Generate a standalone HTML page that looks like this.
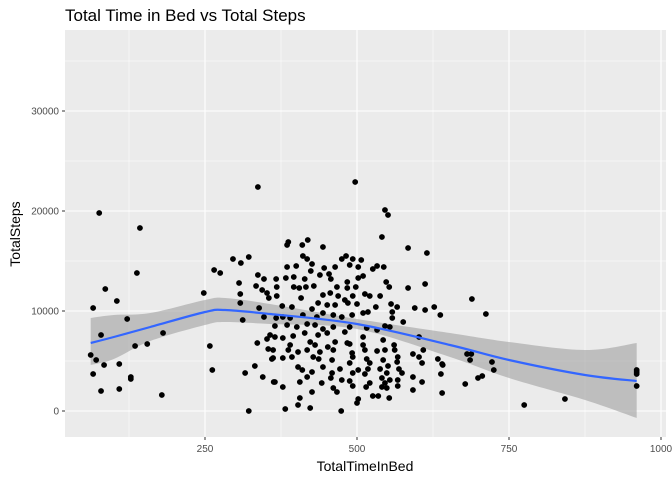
<!DOCTYPE html>
<html><head><meta charset="utf-8"><style>
body{margin:0;background:#fff;}
svg text{font-family:"Liberation Sans",Arial,sans-serif;}
</style></head><body>
<svg id="chart" width="672" height="480" viewBox="0 0 672 480" xmlns="http://www.w3.org/2000/svg">
<rect x="0" y="0" width="672" height="480" fill="#fff"/>
<text x="65" y="21" font-size="17" fill="#000">Total Time in Bed vs Total Steps</text>
<rect x="65" y="30" width="601" height="407" fill="#ebebeb"/>
<g id="grid"></g><g id="ribbon"></g><g id="pts"></g><g id="line"></g><g id="axes"></g>
<text x="365" y="471" font-size="14" text-anchor="middle" fill="#000">TotalTimeInBed</text>
<text transform="translate(20,234) rotate(-90)" font-size="14" text-anchor="middle" fill="#000">TotalSteps</text>
</svg>
<script>
const xTicks=[250,500,750,1000];
const yTicks=[0,10000,20000,30000];
const timeInBed=[76,143,138,86,105,66,248,265,275,296,309,322,337,122,79,181,135,155,62,71,84,109,66,128,128,79,109,179,258,262,322,308,306,308,312,336,316,332,345,363,360,354,337,347,334,344,352,355,339,347,352,357,
497,546,551,541,584,615,387,385,410,419,444,411,418,426,475,482,493,507,488,502,385,400,424,446,464,526,533,544,367,383,396,414,439,454,457,510,502,484,548,553,584,612,368,396,405,416,429,467,484,498,368,408,444,456,469,480,493,513,521,538,436,451,464,485,500,531,556,566,595,612,627,637,377,393,426,411,444,461,510,518,558,378,367,390,434,475,492,558,576,365,385,401,418,431,444,461,480,488,516,533,546,554,602,365,378,395,414,436,451,464,510,543,390,423,431,452,484,488,510,561,362,387,403,418,439,461,492,513,533,546,562,609,362,378,393,428,437,459,493,516,543,567,592,602,633,488,521,551,566,607,640,403,410,444,472,502,518,538,569,426,459,493,513,549,574,638,418,457,475,541,554,592,365,406,442,488,521,546,567,607,378,461,493,515,541,549,567,592,426,467,526,535,553,640,406,502,500,403,423,382,474,
689,712,681,688,686,722,725,641,706,699,678,775,842,960,960,960,960];
const totalSteps=[19800,18300,13800,12200,11000,10300,11800,14100,13800,15200,14800,15400,22400,9200,7600,7800,6500,6700,5600,5100,4600,4700,3700,3400,3200,2000,2200,1600,6500,4100,0,11700,12800,10800,9100,6800,3800,4500,3400,2900,5200,6200,13600,13200,12500,12100,11800,11300,10300,9400,7200,7600,
22900,20100,19600,17400,16300,15800,16900,16600,16600,17100,16400,15500,15200,14700,15200,15500,15200,15100,14600,14400,14400,14500,14000,14300,14400,14200,14500,14400,13200,13300,13400,13200,13600,13700,13200,13500,13300,12900,12900,12400,12300,12700,12400,12400,12300,12400,12500,12400,12300,12400,11500,11300,11600,11800,11500,11100,11500,11700,11500,11500,10800,10600,10600,10800,10700,10400,10700,10400,10300,10100,10400,9600,10500,10400,10200,9600,9800,9600,9800,9900,9900,9400,9300,9300,9400,9400,9600,9300,8900,8500,8600,8400,8700,8600,8200,8400,7900,8400,8300,8100,8500,8400,7400,7400,7300,7500,7800,7600,7800,6900,7400,7100,6600,6900,6600,6400,6800,6700,6600,6600,6100,6100,5900,6100,5900,6100,5800,6100,6000,6100,6100,6100,5300,5300,5400,5400,5200,5100,5400,5200,5100,5400,5700,5400,5200,4800,4800,4500,4900,4800,4700,4400,4100,4400,4200,4100,4200,4200,4200,3900,3800,3800,3700,3800,3800,3700,3400,3300,3100,3300,3100,3400,2900,2900,2800,3000,2800,2800,3100,2900,2400,2300,2500,2400,2400,2300,2500,2100,1900,1900,1500,1500,1300,1800,1300,1200,800,600,300,200,0,
11200,9700,5700,5700,5100,4900,4100,4600,3500,3300,2700,600,1200,4100,3900,3700,2500];
const smoothX=[62,100,160,250,283,357,500,653,750,875,960];
const smoothFit=[6800,7400,8400,9900,10100,9700,8700,6600,5100,3600,3000];
const smoothLo=[4600,5200,7000,8600,8900,8700,8200,5400,3300,1100,-700];
const smoothHi=[9300,9600,9800,11100,11300,10700,9200,7800,6900,6100,6800];

const NS="http://www.w3.org/2000/svg";
const X=v=>53+v*0.608;
const Y=v=>411-v*0.01;
function mk(tag,attrs,parent){const e=document.createElementNS(NS,tag);for(const k in attrs)e.setAttribute(k,attrs[k]);parent.appendChild(e);return e;}
function spline(P,start){let s=start?('M'+P[0][0]+','+P[0][1]):('L'+P[0][0]+','+P[0][1]);
 for(let i=0;i<P.length-1;i++){const p0=P[Math.max(0,i-1)],p1=P[i],p2=P[i+1],p3=P[Math.min(P.length-1,i+2)];
  s+='C'+(p1[0]+(p2[0]-p0[0])/6)+','+(p1[1]+(p2[1]-p0[1])/6)+' '+(p2[0]-(p3[0]-p1[0])/6)+','+(p2[1]-(p3[1]-p1[1])/6)+' '+p2[0]+','+p2[1];}
 return s;}
const grid=document.getElementById('grid');
for(let i=0;i<xTicks.length;i++){const m=xTicks[i]-125;
 const l=mk('line',{x1:X(m),x2:X(m),y1:30,y2:437,stroke:'#fff','stroke-width':0.55},grid);
 
 }
for(let i=0;i<yTicks.length;i++){const m=yTicks[i]+5000;
 const l=mk('line',{x1:65,x2:666,y1:Y(m),y2:Y(m),stroke:'#fff','stroke-width':0.55},grid);
 
 }
const axes=document.getElementById('axes');
xTicks.forEach(t=>{
 const l=mk('line',{x1:X(t),x2:X(t),y1:30,y2:437,stroke:'#fff','stroke-width':1.1},grid);
 
 
 const tk=mk('line',{x1:X(t),x2:X(t),y1:437,y2:440,stroke:'#333','stroke-width':1},axes);
 
 
 const tx=mk('text',{x:X(t),y:452,'font-size':10,'text-anchor':'middle',fill:'#4d4d4d'},axes);
 tx.textContent=t;
 
 
});
yTicks.forEach(t=>{
 const l=mk('line',{x1:65,x2:666,y1:Y(t),y2:Y(t),stroke:'#fff','stroke-width':1.1},grid);
 
 
 const tk=mk('line',{x1:62,x2:65,y1:Y(t),y2:Y(t),stroke:'#333','stroke-width':1},axes);
 
 
 const tx=mk('text',{x:59,y:Y(t)+3.5,'font-size':10,'text-anchor':'end',fill:'#4d4d4d'},axes);
 tx.textContent=t;
 
 
});
const pts=document.getElementById('pts');
for(let i=0;i<timeInBed.length;i++){
 const c=mk('circle',{cx:X(timeInBed[i]),cy:Y(totalSteps[i]),r:2.9,fill:'#000'},pts);
 
 
}
const hi=smoothX.map((x,i)=>[X(x),Y(smoothHi[i])]);
const lo=smoothX.map((x,i)=>[X(x),Y(smoothLo[i])]).reverse();
const rb=mk('path',{d:spline(hi,true)+spline(lo,false)+'Z',fill:'#999','fill-opacity':0.55},document.getElementById('ribbon'));


const fit=smoothX.map((x,i)=>[X(x),Y(smoothFit[i])]);
const ln=mk('path',{d:spline(fit,true),fill:'none',stroke:'#3366FF','stroke-width':2.2},document.getElementById('line'));


</script>
</body></html>
